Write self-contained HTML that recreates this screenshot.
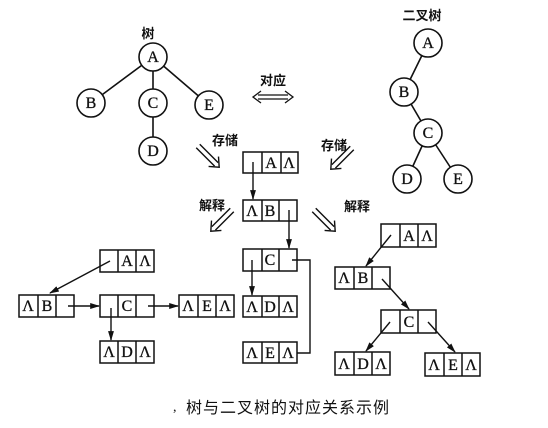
<!DOCTYPE html>
<html><head><meta charset="utf-8"><style>
html,body{margin:0;padding:0;background:#fff;}
svg{display:block;}
text{font-family:"Liberation Serif","Noto Serif CJK SC",serif;fill:#111;}
.cj{font-family:"Liberation Sans","Noto Sans CJK SC",sans-serif;font-weight:bold;font-size:13px;}
</style></head><body>
<svg width="548" height="428" viewBox="0 0 548 428" xmlns="http://www.w3.org/2000/svg">
<defs>
<marker id="ar" viewBox="0 0 10 10" refX="9" refY="5" markerWidth="7" markerHeight="7" orient="auto"><path d="M0,2 L10,5 L0,8 z" fill="#111"/></marker>
</defs>
<g stroke="#111" stroke-width="1.6" fill="none">
<line x1="153" y1="57" x2="91" y2="103"/><line x1="153" y1="57" x2="153" y2="151"/><line x1="153" y1="57" x2="209" y2="105"/>
<line x1="428" y1="43" x2="404" y2="92"/><line x1="404" y1="92" x2="428" y2="133"/><line x1="428" y1="133" x2="407" y2="179"/><line x1="428" y1="133" x2="458" y2="179"/>
</g>
<g stroke="#111" stroke-width="1.6" fill="#fff">
<circle cx="153" cy="57" r="14"/><circle cx="91" cy="103" r="14"/><circle cx="153" cy="103" r="14"/><circle cx="209" cy="105" r="14"/><circle cx="153" cy="151" r="14"/>
<circle cx="428" cy="43" r="14"/><circle cx="404" cy="92" r="14"/><circle cx="428" cy="133" r="14"/><circle cx="407" cy="179" r="14"/><circle cx="458" cy="179" r="14"/>
</g>
<g font-size="16" text-anchor="middle" stroke="#111" stroke-width="0.3">
<text x="153" y="62">A</text><text x="91" y="108">B</text><text x="153" y="108">C</text><text x="209" y="110">E</text><text x="153" y="156">D</text>
<text x="428" y="48">A</text><text x="404" y="97">B</text><text x="428" y="138">C</text><text x="407" y="184">D</text><text x="458" y="184">E</text>
</g>
<text class="cj" x="148" y="38" text-anchor="middle">树</text>
<text class="cj" x="422" y="20" text-anchor="middle">二叉树</text>
<text class="cj" x="273" y="85" text-anchor="middle">对应</text>
<text class="cj" x="225" y="145" text-anchor="middle">存储</text>
<text class="cj" x="334" y="150" text-anchor="middle">存储</text>
<text class="cj" x="212" y="210" text-anchor="middle">解释</text>
<text class="cj" x="357" y="211" text-anchor="middle">解释</text>
<g stroke="#111" stroke-width="1.3" fill="none">
<line x1="258" y1="95" x2="288" y2="95"/><line x1="258" y1="99" x2="288" y2="99"/>
<polyline points="261,91 253,97 261,103"/><polyline points="285,91 293,97 285,103"/>
</g>
<g stroke="#111" stroke-width="1.4" fill="none">
<g transform="translate(210,158) rotate(45)"><line x1="-17" y1="-2.5" x2="9" y2="-2.5"/><line x1="-17" y1="2.5" x2="9" y2="2.5"/><polyline points="5,-7 13,0 5,7"/></g>
<g transform="translate(340,160) rotate(135)"><line x1="-17" y1="-2.5" x2="9" y2="-2.5"/><line x1="-17" y1="2.5" x2="9" y2="2.5"/><polyline points="5,-7 13,0 5,7"/></g>
<g transform="translate(220,222) rotate(135)"><line x1="-17" y1="-2.5" x2="9" y2="-2.5"/><line x1="-17" y1="2.5" x2="9" y2="2.5"/><polyline points="5,-7 13,0 5,7"/></g>
<g transform="translate(326,222) rotate(45)"><line x1="-17" y1="-2.5" x2="9" y2="-2.5"/><line x1="-17" y1="2.5" x2="9" y2="2.5"/><polyline points="5,-7 13,0 5,7"/></g>
</g>
<g stroke="#111" stroke-width="1.5" fill="#fff">
<rect x="243" y="152" width="55" height="21"/><line x1="262" y1="152" x2="262" y2="173"/><line x1="281" y1="152" x2="281" y2="173"/>
<rect x="243" y="200" width="54" height="21"/><line x1="262" y1="200" x2="262" y2="221"/><line x1="279" y1="200" x2="279" y2="221"/>
<rect x="243" y="249" width="54" height="22"/><line x1="262" y1="249" x2="262" y2="271"/><line x1="279" y1="249" x2="279" y2="271"/>
<rect x="243" y="296" width="54" height="21"/><line x1="262" y1="296" x2="262" y2="317"/><line x1="279" y1="296" x2="279" y2="317"/>
<rect x="243" y="342" width="54" height="21"/><line x1="262" y1="342" x2="262" y2="363"/><line x1="279" y1="342" x2="279" y2="363"/>
<rect x="100" y="250" width="54" height="22"/><line x1="118" y1="250" x2="118" y2="272"/><line x1="136" y1="250" x2="136" y2="272"/>
<rect x="19" y="295" width="55" height="22"/><line x1="38" y1="295" x2="38" y2="317"/><line x1="56" y1="295" x2="56" y2="317"/>
<rect x="100" y="295" width="54" height="22"/><line x1="118" y1="295" x2="118" y2="317"/><line x1="136" y1="295" x2="136" y2="317"/>
<rect x="179" y="295" width="55" height="22"/><line x1="198" y1="295" x2="198" y2="317"/><line x1="216" y1="295" x2="216" y2="317"/>
<rect x="100" y="341" width="54" height="22"/><line x1="118" y1="341" x2="118" y2="363"/><line x1="136" y1="341" x2="136" y2="363"/>
<rect x="381" y="224" width="55" height="23"/><line x1="400" y1="224" x2="400" y2="247"/><line x1="418" y1="224" x2="418" y2="247"/>
<rect x="335" y="267" width="55" height="22"/><line x1="354" y1="267" x2="354" y2="289"/><line x1="372" y1="267" x2="372" y2="289"/>
<rect x="381" y="310" width="55" height="23"/><line x1="400" y1="310" x2="400" y2="333"/><line x1="418" y1="310" x2="418" y2="333"/>
<rect x="335" y="352" width="55" height="23"/><line x1="354" y1="352" x2="354" y2="375"/><line x1="372" y1="352" x2="372" y2="375"/>
<rect x="425" y="353" width="55" height="23"/><line x1="444" y1="353" x2="444" y2="376"/><line x1="462" y1="353" x2="462" y2="376"/>
</g>
<g font-size="16" text-anchor="middle" stroke="#111" stroke-width="0.3">
<text x="271" y="168">A</text><text x="289" y="168">Λ</text>
<text x="252" y="216">Λ</text><text x="270" y="216">B</text>
<text x="270" y="265">C</text>
<text x="252" y="312">Λ</text><text x="270" y="312">D</text><text x="288" y="312">Λ</text>
<text x="252" y="358">Λ</text><text x="270" y="358">E</text><text x="288" y="358">Λ</text>
<text x="127" y="266">A</text><text x="145" y="266">Λ</text>
<text x="28" y="311">Λ</text><text x="47" y="311">B</text>
<text x="127" y="311">C</text>
<text x="188" y="311">Λ</text><text x="207" y="311">E</text><text x="225" y="311">Λ</text>
<text x="109" y="357">Λ</text><text x="127" y="357">D</text><text x="145" y="357">Λ</text>
<text x="409" y="241">A</text><text x="427" y="241">Λ</text>
<text x="344" y="283">Λ</text><text x="363" y="283">B</text>
<text x="409" y="327">C</text>
<text x="344" y="369">Λ</text><text x="363" y="369">D</text><text x="381" y="369">Λ</text>
<text x="434" y="370">Λ</text><text x="453" y="370">E</text><text x="471" y="370">Λ</text>
</g>
<g stroke="#111" stroke-width="1.4" fill="none" marker-end="url(#ar)">
<line x1="253" y1="162" x2="253" y2="199"/>
<line x1="289" y1="210" x2="289" y2="248"/>
<line x1="252" y1="260" x2="252" y2="295"/>
<line x1="110" y1="261" x2="50" y2="293"/>
<line x1="68" y1="306" x2="99" y2="306"/>
<line x1="148" y1="306" x2="178" y2="306"/>
<line x1="111" y1="308" x2="111" y2="340"/>
<line x1="391" y1="235" x2="366" y2="266"/>
<line x1="382" y1="279" x2="409" y2="309"/>
<line x1="390" y1="322" x2="366" y2="351"/>
<line x1="428" y1="322" x2="455" y2="352"/>
</g>
<polyline points="292,260 310,260 310,353 297,353" stroke="#111" stroke-width="1.4" fill="none"/>
<text x="173" y="411" font-size="14">,</text>
<text x="288" y="413" text-anchor="middle" style="font-family:'Liberation Sans','Noto Sans CJK SC',sans-serif;font-size:16px;letter-spacing:1px;">树与二叉树的对应关系示例</text>
</svg>
</body></html>
